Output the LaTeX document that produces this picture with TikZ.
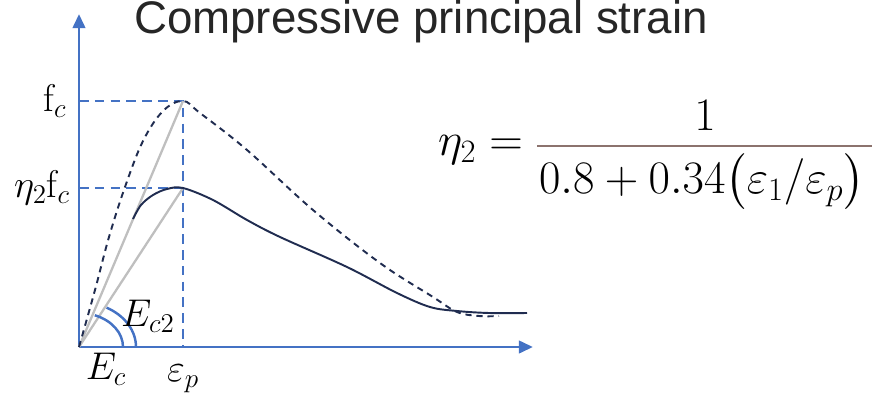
\RequirePackage{fix-cm}
\documentclass[tikz,border=0pt]{standalone}
\usepackage{amsmath,amssymb}
\usepackage{fontspec}
\newfontfamily\titlefont{Liberation Sans}
\usepackage{tikz}
\usetikzlibrary{arrows.meta,positioning,calc}
\definecolor{axisblue}{RGB}{68,114,196}
\definecolor{curvenavy}{RGB}{32,44,80}
\definecolor{secantgray}{RGB}{191,191,191}
\definecolor{barbrown}{RGB}{140,115,110}
\tikzset{
  axisline/.style={axisblue,line width=1.7pt,-{Triangle[length=8pt,width=7pt]}},
  guideline/.style={axisblue,line width=1.4pt,dash pattern=on 5.5pt off 3.5pt},
  secant/.style={secantgray,line width=1.3pt},
  modarc/.style={axisblue,line width=1.4pt},
  curve/.style={curvenavy,line width=1.1pt},
  axlabel/.style={inner sep=1pt,font=\fontsize{22}{26}\selectfont},
  formula/.style={inner sep=1pt,font=\fontsize{26.5}{30}\selectfont}
}

\begin{document}
\begin{tikzpicture}[x=0.02cm,y=0.02cm]
    \useasboundingbox (-79,-46) rectangle (793,347);
    % axes
    \coordinate (O) at (0,0);
    \coordinate (xend) at (454,0);
    \coordinate (yend) at (0,333);
    \draw[axisline] (O) -- (xend);
    \draw[axisline] (O) -- (yend);

    % peaks and guide lines
    \coordinate (pk1) at (104,246);
    \coordinate (pk2) at (104,159);
    \coordinate (fcy) at (0,246);
    \coordinate (etay) at (0,159);
    \coordinate (epx) at (104,0);
    \draw[guideline] (fcy) -- (pk1) -- (epx);
    \draw[guideline] (etay) -- (pk2);

    % secant moduli
    \draw[secant] (O) -- (pk1);
    \draw[secant] (O) -- (pk2);
    \draw[modarc] ($(O)+(44,0)$) arc[start angle=0,end angle=69,x radius=44,y radius=34];
    \draw[modarc] ($(O)+(57,0)$) arc[start angle=0,end angle=61,x radius=57,y radius=45];

    % uniaxial curve (dashed) and reduced curve
    \draw[curve,dash pattern=on 3.5pt off 2.8pt] plot[smooth,tension=0.6] coordinates
        {(0,0) (16,57) (30,110) (46,160) (64,206) (84,236) (104,246)
         (121,234) (168,197) (234,137) (301,84) (354,50) (378,35) (400,31) (420,31)};
    \draw[curve] plot[smooth,tension=0.55] coordinates
        {(54,128) (62,142) (74,152) (88,158) (104,159) (134,147) (168,127) (201,110)
         (268,80) (318,54) (351,40) (378,36) (410,34) (448,34)};

    % labels
    \node[axlabel,left=6pt of fcy] (fc) {$\mathrm{f}_c$};
    \node[axlabel,left=4pt of etay] (etafc) {$\eta_2\mathrm{f}_c$};
    \node[axlabel,below=9pt of epx] (ep) {$\varepsilon_p$};
    \node[axlabel] (Ec) at (27,-22) {$E_c$};
    \node[axlabel] (Ec2) at (69,31) {$E_{c2}$};
    \node[font=\titlefont\fontsize{26}{30}\selectfont,text=black!85] (title) at (342,325) {Compressive principal strain};

    % reduction factor
    \coordinate (barL) at (458,201);
    \coordinate (barR) at (793,201);
    \draw[barbrown,line width=1.6pt] (barL) -- (barR);
    \node[formula,anchor=east] (eta) at (446,197) {$\eta_2 =$};
    \node[formula] (num) at (626,232) {$1$};
    \node[formula] (den) at (623,165) {$0.8 + 0.34\bigl(\varepsilon_1/\varepsilon_p\bigr)$};
\end{tikzpicture}
\end{document}
